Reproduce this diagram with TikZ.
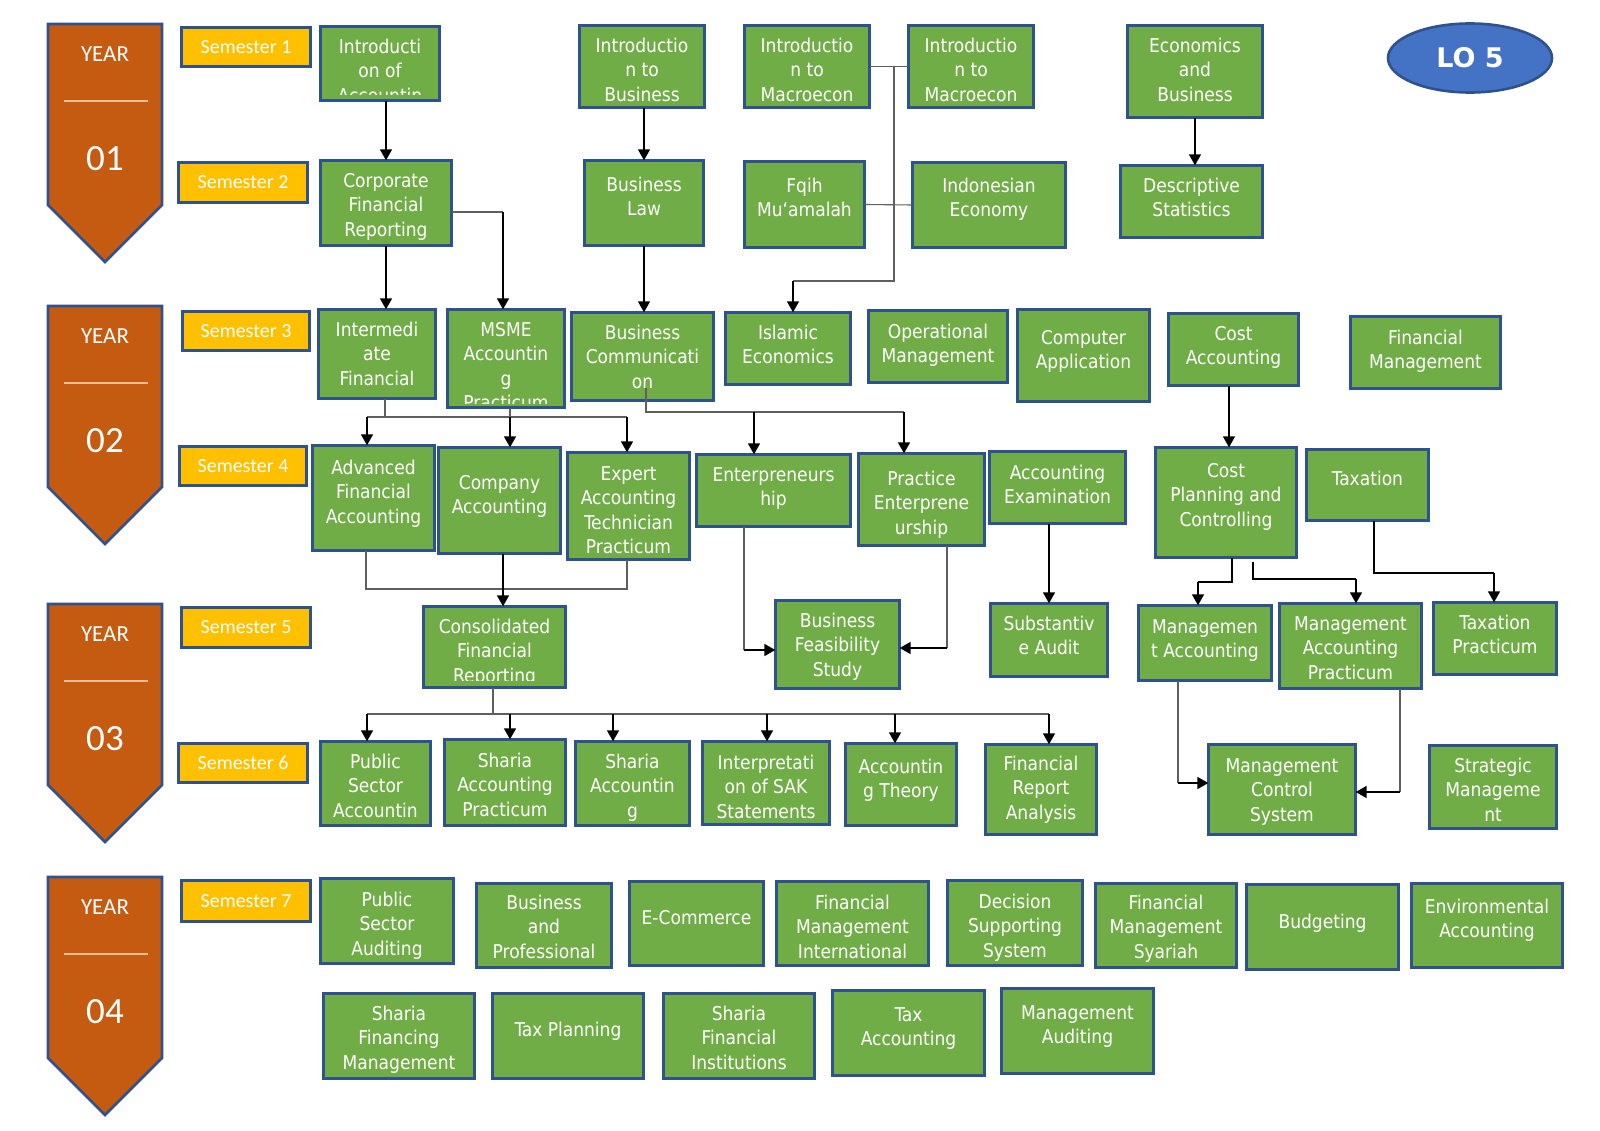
\documentclass[tikz,border=0pt]{standalone}
\usepackage{fontspec}
\setmainfont{DejaVu Sans Condensed}
\newfontfamily\calib{Carlito}
\newfontfamily\lofont{DejaVu Sans}
\usetikzlibrary{shapes.geometric,arrows.meta,calc}
\definecolor{gfill}{RGB}{112,173,71}
\definecolor{bord}{RGB}{47,82,143}
\definecolor{yfill}{RGB}{197,90,17}
\definecolor{sfill}{RGB}{255,192,0}
\definecolor{lfill}{RGB}{68,114,196}
\definecolor{sepc}{RGB}{240,190,150}
\definecolor{lnkc}{RGB}{95,95,95}
\tikzset{
 cbox/.style={draw=bord, fill=gfill, line width=2.6pt, inner sep=0pt, outer sep=0pt},
 ctext/.style={text=white, align=center, inner sep=0pt, font=\fontsize{19}{24.5}\selectfont},
 sembox/.style={draw=bord, fill=sfill, line width=2.6pt, text=white, inner sep=0pt, font=\calib\fontsize{20}{24}\selectfont},
 arr/.style={draw=black, line width=1.6pt, -{Triangle[width=12pt,length=11pt]}},
 lnk/.style={draw=lnkc, line width=1.1pt},
 blk/.style={draw=black, line width=1.6pt},
 yeartxt/.style={text=white, inner sep=0pt, font=\calib\fontsize{23}{26}\selectfont},
 yearnum/.style={text=white, inner sep=0pt, font=\calib\fontsize{37}{40}\selectfont},
}
% green course box: name, x1, y1, x2, y2, first-line offset, text
\newcommand\cb[7]{%
 \node[cbox, minimum width={#4-#2-2.6}, minimum height={#5-#3-2.6}] (#1) at ({(#2+#4)/2},{(#3+#5)/2}) {};
 \node[ctext, anchor=north] (#1-t) at ({(#2+#4)/2},{#3+#6-8}) {\rule{0pt}{15pt}#7};}
% same, with the text clipped above the bottom edge (8th argument: inset)
\newcommand\cbc[8]{%
 \node[cbox, minimum width={#4-#2-2.6}, minimum height={#5-#3-2.6}] (#1) at ({(#2+#4)/2},{(#3+#5)/2}) {};
 \begin{scope}
 \clip (#2,#3) rectangle (#4,{#5-#8});
 \node[ctext, anchor=north] (#1-t) at ({(#2+#4)/2},{#3+#6-8}) {\rule{0pt}{15pt}#7};
 \end{scope}}
% semester label: name, x1, y1, x2, y2, text
\newcommand\sm[6]{%
 \node[sembox, minimum width={#4-#2-2.6}, minimum height={#5-#3-2.6}] (#1) at ({(#2+#4)/2},{(#3+#5)/2}) {#6};}
% year arrow: name, top, number
\newcommand\yr[3]{%
 \draw[draw=bord, fill=yfill, line width=2.6pt, line join=miter] (48,#2) -- (162,#2) -- (162,{#2+181}) -- (105,{#2+238}) -- (48,{#2+181}) -- cycle;
 \node[yeartxt] (#1-y) at (105,{#2+30}) {YEAR};
 \draw[sepc, line width=1.4pt] (64,{#2+77}) -- (148,{#2+77});
 \node[yearnum] (#1-n) at (105,{#2+135}) {#3};}
\begin{document}
\begin{tikzpicture}[x=1pt,y=-1pt]
\fill[white] (0,0) rectangle (1600,1131);
\useasboundingbox (0,0) rectangle (1600,1131);

% years
\yr{y1}{24}{01}
\yr{y2}{306}{02}
\yr{y3}{604}{03}
\yr{y4}{877}{04}

% semesters
\sm{s1}{180}{26}{312}{68}{Semester 1}
\sm{s2}{177}{161}{309}{204}{Semester 2}
\sm{s3}{181}{310}{311}{352}{Semester 3}
\sm{s4}{178}{445}{308}{487}{Semester 4}
\sm{s5}{180}{606}{312}{649}{Semester 5}
\sm{s6}{177}{742}{309}{784}{Semester 6}
\sm{s7}{180}{879}{312}{923}{Semester 7}

% LO 5
\node[ellipse, draw=bord, fill=lfill, line width=2.6pt, minimum width=164, minimum height=69, text=white, font=\lofont\bfseries\fontsize{27}{30}\selectfont] (lo) at (1470,58) {LO 5};

% year 1
\cbc{ia}{319}{25}{441}{102}{21}{Introducti\\on of\\Accountin}{7}
\cb{ib}{578}{24}{706}{109}{21}{Introductio\\n to\\Business}
\cb{im1}{743}{24}{871}{109}{21}{Introductio\\n to\\Macroecon}
\cb{im2}{907}{24}{1035}{109}{21}{Introductio\\n to\\Macroecon}
\cb{eb}{1126}{24}{1264}{119}{21}{Economics\\and\\Business}
\cb{cfr}{319}{159}{453}{247}{21}{Corporate\\Financial\\Reporting}
\cb{bl}{583}{159}{705}{247}{25}{Business\\Law}
\cb{fq}{743}{160}{866}{249}{25}{Fqih\\Mu‘amalah}
\cb{ie}{911}{161}{1067}{249}{24}{Indonesian\\Economy}
\cb{ds}{1119}{164}{1264}{239}{21}{Descriptive\\Statistics}

% year 2, semester 3
\cb{ifa}{317}{308}{437}{400}{21}{Intermedi\\ate\\Financial}
\cbc{msme}{446}{308}{566}{409}{21}{MSME\\Accountin\\g\\Practicum}{6}
\cb{bc}{570}{311}{715}{402}{21}{Business\\Communicati\\on}
\cb{iec}{724}{311}{852}{386}{21}{Islamic\\Economics}
\cb{om}{867}{309}{1009}{384}{22}{Operational\\Management}
\cb{ca}{1016}{308}{1151}{403}{29}{Computer\\Application}
\cb{cacc}{1167}{312}{1300}{387}{21}{Cost\\Accounting}
\cb{fm}{1349}{315}{1502}{390}{22}{Financial\\Management}

% semester 4
\cb{afa}{311}{444}{436}{552}{23}{Advanced\\Financial\\Accounting}
\cb{coa}{437}{446}{562}{555}{36}{Company\\Accounting}
\cb{eatp}{566}{451}{691}{561}{22}{Expert\\Accounting\\Technician\\Practicum}
\cb{ent}{695}{453}{852}{528}{21}{Enterpreneurs\\hip}
\cb{pe}{857}{452}{986}{547}{26}{Practice\\Enterprene\\urship}
\cb{ae}{988}{450}{1127}{525}{22}{Accounting\\Examination}
\cb{cpc}{1154}{446}{1298}{559}{24}{Cost\\Planning and\\Controlling}
\cb{tax}{1305}{448}{1430}{522}{30}{Taxation}

% year 3, semester 5
\cbc{cons}{422}{605}{567}{689}{21}{Consolidated\\Financial\\Reporting}{9}
\cb{bfs}{774}{599}{901}{690}{21}{Business\\Feasibility\\Study}
\cb{sa}{989}{602}{1109}{678}{21}{Substantiv\\e Audit}
\cb{ma}{1137}{604}{1273}{682}{22}{Managemen\\t Accounting}
\cb{map}{1278}{602}{1423}{690}{21}{Management\\Accounting\\Practicum}
\cb{tp}{1432}{601}{1558}{676}{21}{Taxation\\Practicum}

% semester 6
\cb{psa}{319}{740}{432}{827}{21}{Public\\Sector\\Accountin}
\cb{sap}{443}{738}{567}{827}{22}{Sharia\\Accounting\\Practicum}
\cb{sha}{574}{740}{691}{827}{21}{Sharia\\Accountin\\g}
\cb{isak}{701}{740}{831}{826}{22}{Interpretati\\on of SAK\\Statements}
\cb{at}{844}{742}{958}{827}{24}{Accountin\\g Theory}
\cb{fra}{984}{743}{1098}{836}{20}{Financial\\Report\\Analysis}
\cb{mcs}{1207}{743}{1357}{836}{22}{Management\\Control\\System}
\cb{smg}{1428}{744}{1558}{830}{21}{Strategic\\Manageme\\nt}

% year 4
\cb{psau}{319}{877}{455}{965}{22}{Public\\Sector\\Auditing}
\cb{bp}{475}{882}{613}{969}{20}{Business\\and\\Professional}
\cb{ec}{628}{880}{765}{967}{37}{E-Commerce}
\cb{fmi}{775}{880}{930}{967}{22}{Financial\\Management\\International}
\cb{dss}{946}{879}{1084}{967}{22}{Decision\\Supporting\\System}
\cb{fms}{1094}{882}{1238}{969}{20}{Financial\\Management\\Syariah}
\cb{bud}{1245}{883}{1400}{971}{38}{Budgeting}
\cb{env}{1410}{882}{1564}{969}{24}{Environmental\\Accounting}
\cb{sfm}{322}{992}{476}{1080}{21}{Sharia\\Financing\\Management}
\cb{tpl}{491}{992}{645}{1080}{37}{Tax Planning}
\cb{sfi}{662}{992}{816}{1080}{21}{Sharia\\Financial\\Institutions}
\cb{tac}{831}{989}{986}{1077}{25}{Tax\\Accounting}
\cb{mau}{1000}{987}{1155}{1075}{25}{Management\\Auditing}

% ---------- connectors ----------
\draw[arr] (ia.south -| cfr.north) -- (cfr.north);
\draw[arr] (ib.south -| bl.north) -- (bl.north);
\draw[lnk] (im1.east) -- (im2.west);
\coordinate (mjt) at (894,66.5);
\coordinate (mjb) at (894,281);
\coordinate (iej) at (793,281);
\draw[lnk] (mjt) -- (mjb) -- (iej);
\draw[arr] (iej) -- (iej |- iec.north);
\draw[lnk] (fq.east) -- (ie.west);
\draw[arr] (eb.south) -- (eb.south |- ds.north);

\draw[arr] (cfr.south) -- (cfr.south |- ifa.north);
\coordinate (cm) at (503,212);
\draw[lnk] (cfr.east |- cm) -- (cm);
\draw[arr] (cm) -- (cm |- msme.north);
\draw[arr] (bl.south) -- (bl.south |- bc.north);

% semester 3 -> 4
\coordinate (i0) at (385,417);
\coordinate (ial) at (367,417);
\coordinate (iar) at (627,417);
\draw[lnk] (ifa.south -| i0) -- (i0);
\draw[lnk] (ial) -- (iar);
\draw[arr] (ial) -- (ial |- afa.north);
\draw[arr] (iar) -- (iar |- eatp.north);
\coordinate (mc) at (510,417);
\draw[lnk] (msme.south -| mc) -- (mc);
\draw[arr] (mc) -- (mc |- coa.north);

\coordinate (bcs) at (646,388);
\coordinate (b0) at (646,412);
\coordinate (bel) at (754,412);
\coordinate (ber) at (904,412);
\draw[lnk] (bcs) -- (b0) -- (ber);
\draw[arr] (bel) -- (bel |- ent.north);
\draw[arr] (ber) -- (ber |- pe.north);

\coordinate (cc) at (1229,400);
\draw[arr] (cacc.south -| cc) -- (cc |- cpc.north);

% semester 4 -> 5
\coordinate (kl) at (366,589);
\coordinate (kr) at (627,589);
\draw[lnk] (afa.south -| kl) -- (kl) -- (kr) -- (eatp.south -| kr);
\coordinate (kc) at (503,560);
\draw[arr] (coa.south -| kc) -- (kc |- cons.north);

\coordinate (eb1) at (744,650);
\draw[lnk] (ent.south -| eb1) -- (eb1);
\draw[arr] (eb1) -- (eb1 -| bfs.west);
\coordinate (pb1) at (947,648);
\draw[lnk] (pe.south -| pb1) -- (pb1);
\draw[arr] (pb1) -- (pb1 -| bfs.east);

\draw[arr] (sa.north |- ae.south) -- (sa.north);

\coordinate (q1) at (1232,582);
\coordinate (q2) at (1198,582);
\draw[blk] (cpc.south -| q1) -- (q1) -- (q2);
\draw[arr] (q2) -- (q2 |- ma.north);
\coordinate (r0) at (1253,562);
\coordinate (r1) at (1253,579);
\coordinate (r2) at (1356,579);
\draw[blk] (r0) -- (r1) -- (r2);
\draw[arr] (r2) -- (r2 |- map.north);
\coordinate (t1) at (1374,573);
\coordinate (t2) at (1494,573);
\draw[blk] (tax.south -| t1) -- (t1) -- (t2);
\draw[arr] (t2) -- (t2 |- tp.north);

% semester 5 -> 6
\coordinate (u1) at (1178,783);
\draw[lnk] (ma.south -| u1) -- (u1);
\draw[arr] (u1) -- (u1 -| mcs.west);
\coordinate (v1) at (1400,792);
\draw[lnk] (map.south -| v1) -- (v1);
\draw[arr] (v1) -- (v1 -| mcs.east);

\coordinate (w0) at (493,714);
\coordinate (a1) at (367,714);
\coordinate (a2) at (510,714);
\coordinate (a3) at (613,714);
\coordinate (a4) at (767,714);
\coordinate (a5) at (895,714);
\coordinate (a6) at (1049,714);
\draw[lnk] (cons.south -| w0) -- (w0);
\draw[lnk] (a1) -- (a6);
\draw[arr] (a1) -- (a1 |- psa.north);
\draw[arr] (a2) -- (a2 |- sap.north);
\draw[arr] (a3) -- (a3 |- sha.north);
\draw[arr] (a4) -- (a4 |- isak.north);
\draw[arr] (a5) -- (a5 |- at.north);
\draw[arr] (a6) -- (a6 |- fra.north);
\end{tikzpicture}
\end{document}
